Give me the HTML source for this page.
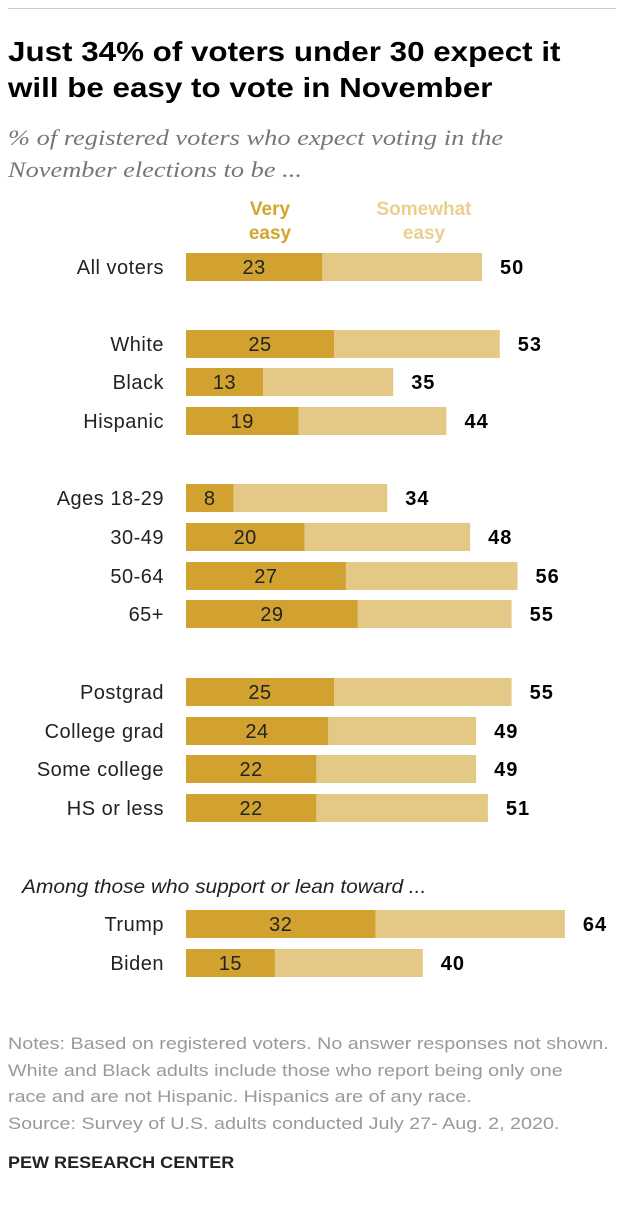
<!DOCTYPE html>
<html><head><meta charset="utf-8"><style>
body{margin:0;background:#fff;width:624px;height:1214px;position:relative;overflow:hidden;font-family:"Liberation Sans",sans-serif}
.a{position:absolute;white-space:nowrap;transform-origin:0 0}
</style></head><body>
<div class="a" style="left:8px;top:8px;width:608px;height:1px;background:#ccc"></div>
<div class="a" style="left:8px;top:34px;font-size:28px;font-weight:bold;line-height:36px;color:#000;transform:scaleX(1.12)">Just 34% of voters under 30 expect it<br>will be easy to vote in November</div>
<div class="a" style="left:8px;top:122px;font-family:'Liberation Serif',serif;font-style:italic;font-size:22px;line-height:32px;color:#777;transform:scaleX(1.2)">% of registered voters who expect voting in the<br>November elections to be ...</div>
<div class="a" style="left:230px;top:198px;width:80px;text-align:center;font-size:19px;font-weight:bold;line-height:24px;color:#d4a52e">Very<br>easy</div>
<div class="a" style="left:354px;top:198px;width:140px;text-align:center;font-size:19px;font-weight:bold;line-height:24px;color:#e8d08f">Somewhat<br>easy</div>
<div class="a" style="left:22px;top:877px;font-size:19px;font-style:italic;color:#222;transform:scaleX(1.1)">Among those who support or lean toward ...</div>
<svg id="chart" class="a" style="left:0;top:0" width="624" height="1000"></svg>
<div class="a" style="left:8px;top:1031px;font-size:17px;line-height:26.7px;color:#999;transform:scaleX(1.16)">Notes: Based on registered voters. No answer responses not shown.<br>White and Black adults include those who report being only one<br>race and are not Hispanic. Hispanics are of any race.<br>Source: Survey of U.S. adults conducted July 27- Aug. 2, 2020.</div>
<div class="a" style="left:8px;top:1153px;font-size:17px;font-weight:bold;color:#222;transform:scaleX(1.06)">PEW RESEARCH CENTER</div>
<script>
const categories=["All voters","White","Black","Hispanic","Ages 18-29","30-49","50-64","65+","Postgrad","College grad","Some college","HS or less","Trump","Biden"];
const veryEasy=[23,25,13,19,8,20,27,29,25,24,22,22,32,15];
const netEasy=[50,53,35,44,34,48,56,55,55,49,49,51,64,40];
const rowY=[267,344,382,421,498,537,576,614,692,731,769,808,924,963];
const x0=186,k=5.92,bh=28;
const x=v=>x0+v*k;
const svg=document.getElementById('chart');
const NS='http://www.w3.org/2000/svg';
function mk(t,at){const e=document.createElementNS(NS,t);for(const a in at)e.setAttribute(a,at[a]);svg.appendChild(e);return e;}
categories.forEach((c,i)=>{
 const y=rowY[i];
 const s=mk('rect',{x:x0,y:y-bh/2,width:x(netEasy[i])-x0,height:bh,fill:'#e3c985'});
 
 
 const v=mk('rect',{x:x0,y:y-bh/2,width:x(veryEasy[i])-x0,height:bh,fill:'#d1a22f'});
 
 
 const l=mk('text',{x:164,y:y+7,'text-anchor':'end','font-size':20,'letter-spacing':0.5,fill:'#222','font-family':'Liberation Sans, sans-serif'});l.textContent=c;
 
 
 const vl=mk('text',{x:(x0+x(veryEasy[i]))/2,y:y+7,'text-anchor':'middle','font-size':20,'letter-spacing':0.5,fill:'#222','font-family':'Liberation Sans, sans-serif'});vl.textContent=veryEasy[i];
 
 
 const tl=mk('text',{x:x(netEasy[i])+18,y:y+7,'font-size':20,'letter-spacing':1,'font-weight':'bold',fill:'#000','font-family':'Liberation Sans, sans-serif'});tl.textContent=netEasy[i];
 
 
});
</script>
</body></html>
